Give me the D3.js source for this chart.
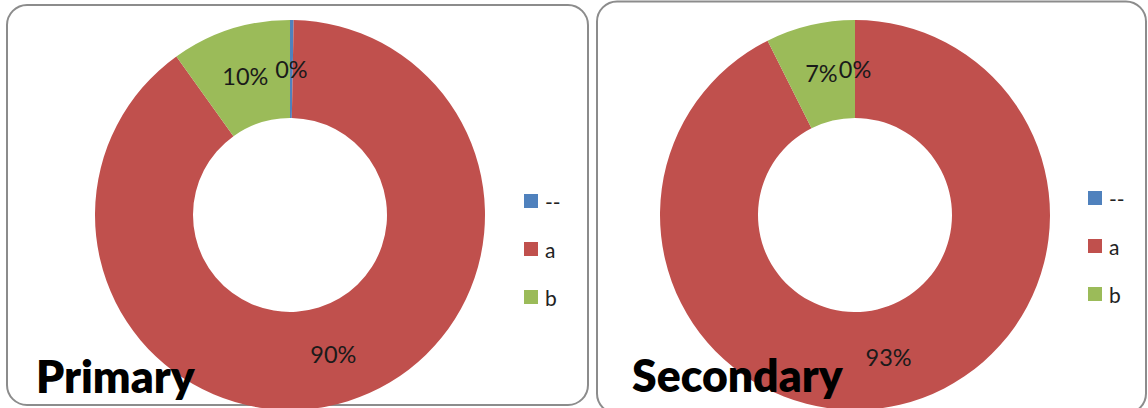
<!DOCTYPE html>
<html>
<head>
<meta charset="utf-8">
<script src="https://cdn.jsdelivr.net/npm/d3@7"></script>
<style>
  html, body { margin: 0; padding: 0; background: #fff; }
  svg { display: block; }
</style>
</head>
<body>
<svg id="chart" width="1148" height="408"></svg>
<script>
// Shares of each category, in percent
const categories = ["--", "a", "b"];
const primaryValues = [0.3, 89.8, 9.9];
const secondaryValues = [0, 92.6, 7.4];
const chartTitles = ["Primary", "Secondary"];
const palette = ["#4F81BD", "#C0504D", "#9BBB59"];

const svg = d3.select("#chart");
const fontFamily = "Lato, 'Open Sans', sans-serif";

const panels = [
  { title: chartTitles[0], values: primaryValues,
    box: { x: 7, y: 5, w: 581, h: 400 },
    cx: 290, cy: 215, legendX: 524, legendY: 194, titleX: 36, titleY: 393 },
  { title: chartTitles[1], values: secondaryValues,
    box: { x: 597, y: 1.5, w: 549, h: 412 },
    cx: 855, cy: 215, legendX: 1088, legendY: 191, titleX: 632, titleY: 392 }
];

const color = d3.scaleOrdinal().domain(categories).range(palette);
const pie = d3.pie().sort(null).value(d => d.value);
const arc = d3.arc().innerRadius(97).outerRadius(195);

panels.forEach(p => {
  const g = svg.append("g");

  // rounded chart frame
  g.append("rect")
    .attr("x", p.box.x).attr("y", p.box.y)
    .attr("width", p.box.w).attr("height", p.box.h)
    .attr("rx", 20).attr("ry", 20)
    .attr("fill", "#fff")
    .attr("stroke", "#8c8c8c")
    .attr("stroke-width", 2);

  const data = categories.map((c, i) => ({ category: c, value: p.values[i] }));
  const arcs = pie(data);

  const donut = g.append("g").attr("transform", `translate(${p.cx},${p.cy})`);
  donut.selectAll("path")
    .data(arcs)
    .join("path")
    .attr("d", arc)
    .attr("fill", d => color(d.data.category));

  donut.selectAll("text")
    .data(arcs)
    .join("text")
    .attr("transform", d => `translate(${arc.centroid(d)})`)
    .attr("text-anchor", "middle")
    .attr("dominant-baseline", "central")
    .attr("font-family", fontFamily)
    .attr("font-size", 23.5)
    .attr("fill", "#1a1a1a")
    .text(d => Math.round(d.data.value) + "%");

  // legend
  const legend = g.append("g").attr("transform", `translate(${p.legendX},${p.legendY})`);
  const items = legend.selectAll("g")
    .data(categories)
    .join("g")
    .attr("transform", (d, i) => `translate(0,${i * 48})`);
  items.append("rect")
    .attr("width", 14).attr("height", 14)
    .attr("fill", d => color(d));
  items.append("text")
    .attr("x", 21).attr("y", 7)
    .attr("dominant-baseline", "central")
    .attr("font-family", fontFamily)
    .attr("font-size", 21)
    .attr("fill", "#222")
    .text(d => d);

  // panel title
  g.append("text")
    .attr("x", p.titleX).attr("y", p.titleY)
    .attr("font-family", fontFamily)
    .attr("font-weight", 800)
    .attr("font-size", 44.5)
    .attr("fill", "#000")
    .text(p.title);
});
</script>
</body>
</html>
